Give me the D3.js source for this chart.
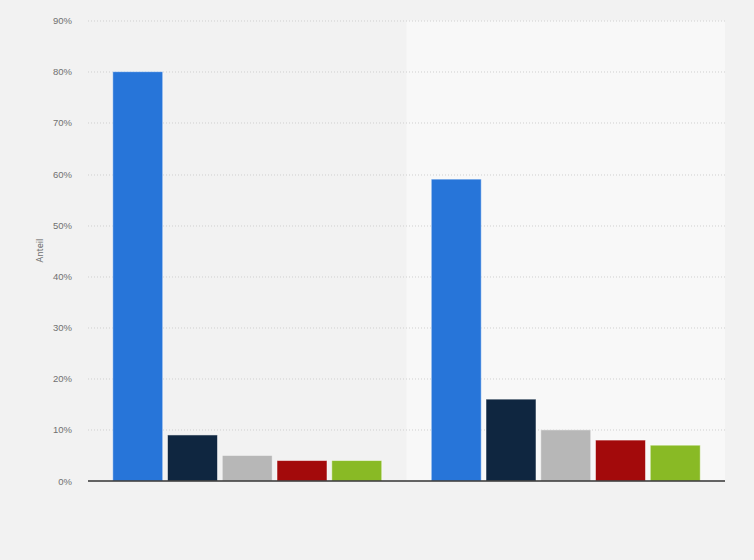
<!DOCTYPE html>
<html><head><meta charset="utf-8">
<script src="https://cdn.jsdelivr.net/npm/d3@7"></script>
<style>
html,body{margin:0;padding:0;background:#f2f2f2;}
svg{display:block;font-family:Roboto,"Open Sans",Arial,sans-serif;}
</style></head>
<body>
<svg id="chart" width="754" height="560"></svg>
<script>
const categories = ["Gruppe 1", "Gruppe 2"];
const seriesNames = ["Serie 1", "Serie 2", "Serie 3", "Serie 4", "Serie 5"];
const seriesColors = ["#2775d9", "#0f2640", "#b7b7b7", "#a30a0b", "#89ba25"];
const group1Values = [80, 9, 5, 4, 4];
const group2Values = [59, 16, 10, 8, 7];
const yTicks = [0, 10, 20, 30, 40, 50, 60, 70, 80, 90];
const yTitle = "Anteil";

const values = [group1Values, group2Values];
const svg = d3.select("#chart");
const m = {left: 88, right: 29, top: 20.5, bottom: 79};
const W = 754, H = 560;
const iw = W - m.left - m.right, ih = H - m.top - m.bottom;
const g = svg.append("g").attr("transform", `translate(${m.left},${m.top})`);

svg.append("rect").attr("width", W).attr("height", H).attr("fill", "#f2f2f2").lower();

const x0 = d3.scaleBand().domain(categories).range([0, iw]).padding(0);
const x1 = d3.scaleBand().domain(seriesNames).range([0, x0.bandwidth()]).paddingInner(0.087).paddingOuter(0.452);
const y = d3.scaleLinear().domain([0, 90]).range([ih, 0]);

// alternating bands
g.selectAll("rect.band").data(categories).join("rect")
  .attr("class", "band")
  .attr("x", d => x0(d)).attr("y", 0)
  .attr("width", x0.bandwidth()).attr("height", ih)
  .attr("fill", (d, i) => i % 2 ? "#f8f8f8" : "#f2f2f2");

// gridlines
g.selectAll("line.grid").data(yTicks.filter(t => t > 0)).join("line")
  .attr("class", "grid")
  .attr("x1", 0).attr("x2", iw)
  .attr("y1", d => Math.round(y(d)) + 0.5).attr("y2", d => Math.round(y(d)) + 0.5)
  .attr("stroke", "#cfcfcf").attr("stroke-width", 1).attr("stroke-dasharray", "1,2");

// y axis labels
const yAxis = d3.axisLeft(y).tickValues(yTicks).tickFormat(d => d + "%").tickSize(0).tickPadding(16);
const ya = g.append("g").call(yAxis);
ya.select(".domain").remove();
ya.selectAll("text").attr("fill", "#707070").style("font-size", "9.5px");

// bars
const groups = g.selectAll("g.grp").data(categories).join("g")
  .attr("class", "grp").attr("transform", d => `translate(${x0(d)},0)`);
groups.selectAll("rect").data((d, i) => values[i].map((v, j) => ({s: seriesNames[j], v, c: seriesColors[j]})))
  .join("rect")
  .attr("x", d => x1(d.s)).attr("width", x1.bandwidth())
  .attr("y", d => y(d.v)).attr("height", d => ih - y(d.v))
  .attr("fill", d => d.c)
  .attr("stroke", "rgba(255,255,255,0.5)").attr("stroke-width", 1);

// baseline
g.append("line").attr("x1", 0).attr("x2", iw).attr("y1", ih).attr("y2", ih)
  .attr("stroke", "#333").attr("stroke-width", 1.3);

// y title
svg.append("text")
  .attr("transform", `translate(43,${m.top + ih / 2}) rotate(-90)`)
  .attr("text-anchor", "middle").attr("fill", "#707070").style("font-size", "9.5px")
  .text(yTitle);
</script>
</body></html>
